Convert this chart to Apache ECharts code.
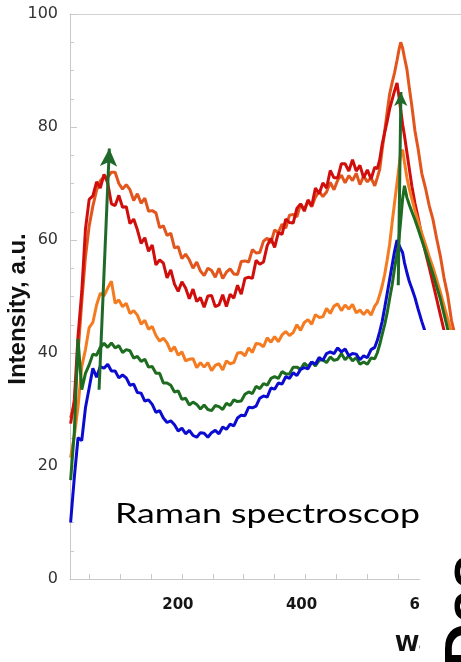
<!DOCTYPE html>
<html>
<head>
<meta charset="utf-8">
<script src="https://cdn.jsdelivr.net/npm/echarts@6/dist/echarts.min.js"></script>
<style>
  html, body { margin: 0; padding: 0; background: #ffffff; }
  #chart { width: 461px; height: 662px; }
</style>
</head>
<body>
<div id="chart"></div>
<script>
// Raman shift (cm-1) shared by all spectra
const wavenumber = [
  20, 26, 32, 38, 44, 50, 56, 62, 68, 74,
  80, 86, 92, 98, 104, 110, 116, 122, 128, 134,
  140, 146, 152, 158, 164, 170, 176, 182, 188, 194,
  200, 206, 212, 218, 224, 230, 236, 242, 248, 254,
  260, 266, 272, 278, 284, 290, 296, 302, 308, 314,
  320, 326, 332, 338, 344, 350, 356, 362, 368, 374,
  380, 386, 392, 398, 404, 410, 416, 422, 428, 434,
  440, 446, 452, 458, 464, 470, 476, 482, 488, 494,
  500, 506, 512,
  516, 520, 524, 528, 532, 536, 540, 544, 548, 551,
  554, 557, 560, 564, 568, 572, 577, 582, 588, 594,
  600, 606, 612, 618, 624, 630, 636, 642, 648
];

// Intensity (a.u.) of each spectrum
const spectrumOrangeRed = [
  28.5, 31.0, 40.0, 49.0, 57.0, 62.5, 66.0, 68.8, 70.5, 71.2,
  71.1, 72.0, 72.0, 70.0, 69.0, 69.8, 68.9, 67.0, 68.2, 66.5,
  67.4, 65.1, 65.2, 64.8, 62.2, 62.5, 60.8, 61.2, 58.6, 58.8,
  56.7, 57.5, 56.5, 55.0, 56.1, 54.5, 53.7, 55.0, 54.6, 53.4,
  55.0, 53.2, 54.3, 54.9, 54.0, 53.9, 56.2, 56.3, 56.1, 58.3,
  57.7, 57.8, 59.8, 60.3, 59.5, 61.8, 61.3, 62.8, 62.1, 64.4,
  64.5, 64.1, 66.4, 65.4, 66.9, 65.9, 67.6, 68.6, 67.7, 68.5,
  70.2, 68.9, 70.6, 71.5, 70.1, 71.4, 70.5, 71.8, 69.8, 71.3,
  70.3, 71.0, 69.6,
  71.0, 72.5, 76.0, 79.2, 82.6, 85.8, 87.8, 89.6, 91.8, 93.6,
  95.0, 94.0, 92.3, 90.2, 86.8, 83.7, 79.3, 76.2, 71.8, 69.2,
  66.1, 63.7, 60.3, 57.2, 53.3, 50.2, 45.8, 43.0, 39.8
];

const spectrumRed = [
  27.5, 31.7, 43.0, 50.8, 61.9, 67.2, 67.8, 70.3, 69.2, 71.6,
  70.1, 66.4, 66.1, 67.9, 65.8, 65.9, 62.9, 63.7, 61.8, 59.4,
  60.4, 58.0, 59.1, 55.6, 56.5, 55.9, 53.3, 54.7, 52.2, 50.9,
  52.6, 51.5, 49.6, 51.3, 49.1, 49.8, 48.1, 50.1, 50.2, 48.2,
  48.5, 50.3, 48.2, 50.4, 49.7, 52.0, 50.4, 53.2, 53.4, 53.2,
  56.4, 55.7, 56.1, 59.0, 60.3, 58.7, 61.3, 61.0, 63.7, 63.1,
  63.0, 65.6, 66.4, 65.1, 67.1, 66.0, 69.2, 68.2, 70.1, 69.2,
  72.3, 71.0, 71.0, 73.5, 73.5, 72.2, 74.2, 72.2, 73.2, 71.0,
  72.4, 70.8, 72.9,
  72.6, 74.2, 77.0, 79.0, 81.0, 83.2, 84.8, 86.4, 87.8, 85.5,
  83.0, 80.5, 78.5, 75.5, 72.5, 69.5, 66.5, 64.0, 60.8, 57.8,
  55.2, 52.4, 49.6, 46.8, 44.0, 41.2, 38.8, 36.7, 34.5
];

const spectrumOrange = [
  21.5, 25.4, 30.5, 37.6, 40.6, 44.5, 45.4, 48.5, 50.6, 50.1,
  51.5, 52.7, 48.8, 49.4, 48.2, 48.8, 47.0, 47.5, 46.7, 45.1,
  45.8, 44.2, 44.7, 43.1, 42.1, 42.6, 41.8, 40.3, 41.1, 39.6,
  40.2, 38.6, 38.9, 39.0, 37.4, 38.3, 37.5, 38.3, 36.9, 37.8,
  38.1, 37.0, 38.6, 38.1, 38.3, 40.0, 40.1, 39.5, 40.9, 40.1,
  41.7, 41.6, 41.1, 42.7, 41.9, 42.9, 42.0, 43.2, 43.8, 43.1,
  43.6, 45.0, 44.0, 45.4, 45.9, 45.1, 46.8, 46.3, 46.4, 47.9,
  47.0, 48.3, 48.7, 47.5, 48.5, 47.8, 48.6, 47.1, 47.6, 46.8,
  47.6, 46.7, 48.3,
  48.9, 50.3, 51.9, 53.9, 56.4, 59.2, 63.0, 66.6, 70.1, 72.8,
  75.4, 76.0, 73.8, 71.0, 69.0, 67.3, 65.2, 63.4, 61.2, 59.2,
  57.1, 55.2, 53.0, 50.8, 48.4, 46.0, 43.8, 41.6, 39.6
];

const spectrumGreen = [
  17.5, 26.0, 42.5, 33.5, 36.4, 37.9, 39.8, 39.6, 41.0, 41.7,
  41.0, 41.8, 40.9, 41.3, 40.1, 40.6, 40.4, 39.1, 39.4, 38.5,
  38.9, 37.5, 37.6, 36.4, 36.4, 34.7, 34.7, 34.3, 33.1, 33.3,
  31.8, 32.0, 30.8, 31.3, 30.9, 30.1, 30.8, 30.0, 29.8, 30.7,
  30.5, 30.0, 31.1, 30.7, 31.7, 31.4, 31.5, 32.7, 33.1, 32.8,
  34.1, 33.7, 34.6, 34.3, 35.5, 35.8, 35.5, 36.7, 36.3, 36.3,
  37.5, 37.5, 37.1, 38.2, 37.6, 38.4, 37.7, 38.7, 38.8, 38.3,
  39.3, 38.7, 38.9, 39.9, 38.8, 39.5, 38.6, 39.2, 38.0, 38.4,
  38.0, 39.1, 39.0,
  40.0, 41.5, 43.3, 45.0, 47.1, 49.6, 52.0, 55.0, 57.5, 60.0,
  63.5, 67.3, 69.6, 67.5, 66.2, 65.0, 63.6, 62.0, 60.0, 58.0,
  56.0, 54.0, 51.8, 49.6, 46.9, 44.2, 41.6, 39.5, 37.5
];

const spectrumBlue = [
  10.0, 18.0, 25.0, 24.5, 30.3, 33.8, 37.3, 35.7, 37.6, 37.3,
  38.0, 36.8, 36.8, 35.6, 36.1, 35.6, 34.3, 34.5, 33.0, 32.9,
  31.5, 31.7, 30.9, 29.5, 29.8, 28.5, 27.7, 28.0, 27.3, 26.2,
  26.7, 25.7, 26.3, 25.4, 25.1, 25.9, 25.8, 25.1, 25.9, 26.3,
  25.7, 26.9, 26.5, 27.4, 27.1, 28.5, 29.0, 28.9, 30.4, 30.3,
  30.6, 32.0, 32.4, 32.2, 33.8, 33.6, 34.7, 34.5, 35.8, 35.5,
  36.5, 36.0, 37.1, 37.4, 37.2, 38.4, 38.0, 39.2, 38.7, 39.9,
  40.2, 39.9, 40.9, 40.2, 40.7, 39.5, 39.9, 39.8, 38.8, 39.5,
  39.2, 40.6, 41.0,
  42.2, 43.8, 45.6, 48.0, 50.5, 53.0, 55.5, 58.0, 60.0, 59.2,
  58.4, 57.8, 56.0, 54.2, 52.6, 51.4, 49.8, 47.8, 45.6, 43.6,
  41.4, 39.4, 37.8, 36.3, 34.8, 33.3, 31.8, 30.3, 29.0
];

// Axis ticks and labels
const xLabelValues = [200, 400, 600];
const xTickValues = [50, 100, 150, 200, 250, 300, 350, 400, 450, 500, 550, 600, 650];

// Growth arrows: [wavenumber, intensity] of tail and tip
const arrowTail = [[66, 33.5], [550, 52]];
const arrowTip = [[82.6, 76.2], [554.3, 86.2]];

const seriesDefs = [
  { name: 'spectrum 1', values: spectrumOrangeRed, color: '#e2561e' },
  { name: 'spectrum 2', values: spectrumRed, color: '#d00f0c' },
  { name: 'spectrum 3', values: spectrumOrange, color: '#f47b20' },
  { name: 'spectrum 4', values: spectrumGreen, color: '#1d6c1f' },
  { name: 'spectrum 5', values: spectrumBlue, color: '#0c0cd0' }
];

const axisGray = '#c9c9c9';

// Horizontal stretch so the caption spans its box
const measureCtx = document.createElement('canvas').getContext('2d');
measureCtx.font = '27px Lato';
const captionScale = 305 / measureCtx.measureText('Raman spectroscop').width;

const chart = echarts.init(document.getElementById('chart'), null, { renderer: 'canvas' });

const series = seriesDefs.map(function (d) {
  return {
    name: d.name,
    type: 'line',
    xAxisIndex: 0,
    yAxisIndex: 0,
    data: wavenumber.map(function (w, i) { return [w, d.values[i]]; }),
    showSymbol: false,
    symbol: 'none',
    smooth: false,
    lineStyle: { color: d.color, width: 3 },
    itemStyle: { color: d.color },
    animation: false,
    silent: true
  };
});

series[series.length - 1].markLine = {
  silent: true,
  animation: false,
  symbol: ['none', 'arrow'],
  label: { show: false },
  lineStyle: { color: '#1f6a2a', width: 3, type: 'solid', opacity: 1 },
  emphasis: { disabled: true },
  data: [
    [{ coord: arrowTail[0] }, { coord: arrowTip[0], symbolSize: [13, 18] }],
    [{ coord: arrowTail[1] }, { coord: arrowTip[1], symbolSize: [10, 14] }]
  ]
};

const option = {
  backgroundColor: '#ffffff',
  animation: false,
  grid: { left: 70, top: 14, width: 421, height: 565, containLabel: false, outerBoundsMode: 'none' },
  xAxis: [
    {
      type: 'value',
      position: 'bottom',
      min: 19,
      max: 700,
      axisLine: { show: true, onZero: false, lineStyle: { color: axisGray, width: 1 } },
      axisTick: { show: true, inside: true, length: 5, customValues: xTickValues, lineStyle: { color: axisGray } },
      axisLabel: {
        show: true,
        customValues: xLabelValues,
        fontFamily: 'DejaVu Sans',
        fontWeight: 'bold',
        fontSize: 15,
        color: '#151515',
        margin: 19,
        padding: [0, 8, 0, 0]
      },
      splitLine: { show: false }
    },
    {
      type: 'value',
      position: 'top',
      min: 19,
      max: 700,
      axisLine: { show: true, onZero: false, lineStyle: { color: '#d2d2d2', width: 1 } },
      axisTick: { show: false },
      axisLabel: { show: false },
      splitLine: { show: false }
    }
  ],
  yAxis: {
    type: 'value',
    min: 0,
    max: 100,
    interval: 20,
    name: 'Intensity, a.u.',
    nameLocation: 'middle',
    nameGap: 40,
    nameRotate: 90,
    nameMoveOverlap: false,
    nameTextStyle: {
      fontFamily: 'Liberation Sans',
      fontWeight: 'bold',
      fontSize: 24,
      color: '#111111',
      padding: [0, 25, 0, 0]
    },
    axisLine: { show: true, onZero: false, lineStyle: { color: axisGray, width: 1 } },
    axisTick: { show: true, inside: true, length: 7, lineStyle: { color: axisGray } },
    minorTick: { show: true, splitNumber: 4, length: 4, lineStyle: { color: axisGray } },
    axisLabel: {
      fontFamily: 'DejaVu Sans',
      fontSize: 16,
      color: '#333333',
      margin: 12
    },
    splitLine: { show: false }
  },
  graphic: [
    {
      type: 'text',
      x: 115,
      y: 514,
      scaleX: captionScale,
      z: 50,
      silent: true,
      style: {
        text: 'Raman spectroscopy',
        font: '27px Lato',
        fill: '#000000',
        align: 'left',
        verticalAlign: 'middle'
      }
    },
    {
      type: 'text',
      x: 395,
      y: 645,
      z: 50,
      silent: true,
      style: {
        text: 'Wavenumber, cm\u207B\u00B9',
        font: 'bold 22px "DejaVu Sans"',
        fill: '#111111',
        align: 'left',
        verticalAlign: 'middle'
      }
    },
    {
      type: 'rect',
      z: 100,
      silent: true,
      shape: { x: 420, y: 330, width: 41, height: 332 },
      style: { fill: '#ffffff' }
    },
    {
      type: 'text',
      x: 469.5,
      y: 668,
      rotation: Math.PI / 2,
      z: 110,
      silent: true,
      style: {
        text: 'Das',
        font: 'bold 62px "Liberation Sans"',
        fill: '#000000',
        align: 'left',
        verticalAlign: 'middle'
      }
    }
  ],
  series: series
};

chart.setOption(option);
</script>
</body>
</html>
